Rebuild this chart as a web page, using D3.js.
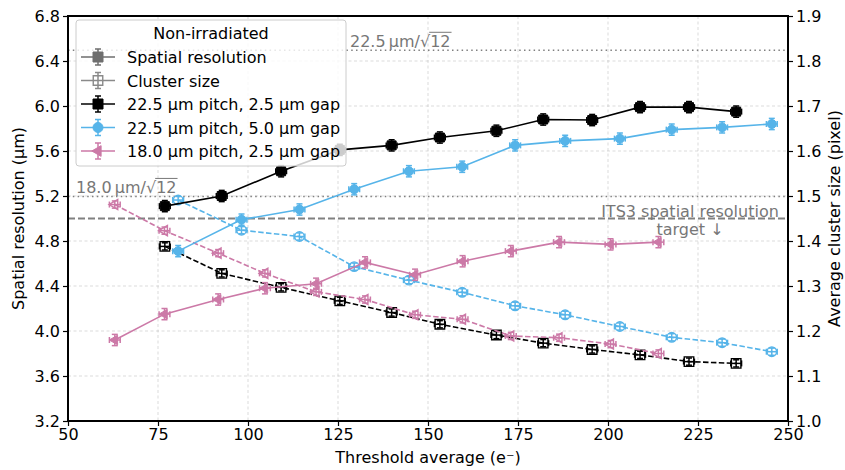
<!DOCTYPE html>
<html><head><meta charset="utf-8">
<script src="https://cdn.jsdelivr.net/npm/d3@7"></script>
<style>
body{margin:0;background:#fff;}
text{font-family:"DejaVu Sans",sans-serif;}
</style></head>
<body><svg id="c" width="845" height="470"></svg>
<script>
// ---- data ----
const xTicks = [50,75,100,125,150,175,200,225,250];
const yTicksLeft = [3.2,3.6,4.0,4.4,4.8,5.2,5.6,6.0,6.4,6.8];
const yTicksRight = [1.0,1.1,1.2,1.3,1.4,1.5,1.6,1.7,1.8,1.9];

const thrA = [76.9,92.7,109.2,125.5,139.9,153.3,169.0,182.0,195.6,208.9,222.5,235.6];
const resA = [5.11,5.20,5.42,5.61,5.65,5.72,5.78,5.88,5.875,5.99,5.99,5.95];
const cluA = [1.388,1.328,1.297,1.267,1.241,1.215,1.191,1.173,1.159,1.147,1.132,1.128];

const thrB = [80.6,98.2,114.3,129.5,144.7,159.5,174.2,188.1,203.3,217.7,231.7,245.5];
const resB = [4.71,4.99,5.08,5.26,5.42,5.46,5.65,5.69,5.71,5.79,5.81,5.84];
const cluB = [1.491,1.424,1.410,1.343,1.313,1.286,1.256,1.236,1.210,1.186,1.174,1.154];

const thrC = [63.0,76.8,91.7,104.7,118.9,132.5,146.4,159.6,173.0,186.4,200.7,214.0];
const resC = [3.92,4.15,4.28,4.38,4.42,4.61,4.50,4.62,4.71,4.79,4.77,4.79];
const cluC = [1.481,1.423,1.373,1.328,1.287,1.270,1.236,1.226,1.189,1.185,1.171,1.150];

const resErr = 0.05, cluErr = 0.008, thrErr = 1.5;

const seriesNames = ["22.5 µm pitch, 2.5 µm gap","22.5 µm pitch, 5.0 µm gap","18.0 µm pitch, 2.5 µm gap"];
const seriesColors = ["#000000","#56B4E9","#CC79A7"];
const seriesMarkers = ["square","circle","triangle"];

const refLines = [
  {v:22.5/Math.sqrt(12), dash:"1.5,3.3", w:1.6, label:"22.5", lx:350},
  {v:18.0/Math.sqrt(12), dash:"1.5,3.3", w:1.6, label:"18.0", lx:76},
  {v:5.0, dash:"7,3", w:2, label:null}
];

// ---- layout ----
const W=845,H=470, m={l:68,r:57,t:16,b:49};
const svg=d3.select("#c");
const x=d3.scaleLinear().domain([50,250]).range([m.l,W-m.r]);
const yL=d3.scaleLinear().domain([3.2,6.8]).range([H-m.b,m.t]);
const yR=d3.scaleLinear().domain([1.0,1.9]).range([H-m.b,m.t]);

// grid
const g=svg.append("g");
g.selectAll(".gx").data(xTicks).join("line")
 .attr("x1",d=>x(d)).attr("x2",d=>x(d)).attr("y1",m.t).attr("y2",H-m.b)
 .attr("stroke","#b0b0b0").attr("stroke-opacity",0.6).attr("stroke-width",0.8).attr("stroke-dasharray","3,2.5");
g.selectAll(".gy").data(yTicksLeft).join("line")
 .attr("x1",m.l).attr("x2",W-m.r).attr("y1",d=>yL(d)).attr("y2",d=>yL(d))
 .attr("stroke","#b0b0b0").attr("stroke-opacity",0.6).attr("stroke-width",0.8).attr("stroke-dasharray","3,2.5");

// reference lines
refLines.forEach(r=>{
  svg.append("line").attr("x1",m.l).attr("x2",W-m.r).attr("y1",yL(r.v)).attr("y2",yL(r.v))
   .attr("stroke","#808080").attr("stroke-width",r.w).attr("stroke-dasharray",r.dash);
});
function sqrtLabel(txt,lx,ly){
  const t1=svg.append("text").attr("x",lx).attr("y",ly).attr("font-size",16).attr("fill","#777")
    .text(txt+"\u2009µm/√");
  const w1=t1.node().getComputedTextLength();
  const t2=svg.append("text").attr("x",lx+w1).attr("y",ly).attr("font-size",16).attr("fill","#777").text("12");
  const w2=t2.node().getComputedTextLength();
  svg.append("line").attr("x1",lx+w1-1).attr("x2",lx+w1+w2+1).attr("y1",ly-15).attr("y2",ly-15)
    .attr("stroke","#777").attr("stroke-width",1);
}
sqrtLabel(refLines[0].label,refLines[0].lx,yL(refLines[0].v)-3);
sqrtLabel(refLines[1].label,refLines[1].lx,yL(refLines[1].v)-3);
svg.append("text").attr("x",690).attr("y",yL(5.0)-2).attr("text-anchor","middle").attr("font-size",16).attr("fill","#777").text("ITS3 spatial resolution");
svg.append("text").attr("x",690).attr("y",yL(5.0)+16).attr("text-anchor","middle").attr("font-size",16).attr("fill","#777").text("target ↓");

// markers
function markerPath(kind,s){
  if(kind==="square") return `M${-s/2},${-s/2}h${s}v${s}h${-s}Z`;
  if(kind==="circle") return d3.symbol(d3.symbolCircle, Math.PI*(s/2)*(s/2))();
  const r=s*0.62; return `M${-r},0L${r*0.5},${-r*0.866}L${r*0.5},${r*0.866}Z`;
}

function drawSeries(xs,ys,yscale,col,kind,dashed,errY,hollow,parent){
  const gg=parent.append("g");
  const line=d3.line().x((d,i)=>x(xs[i])).y(d=>yscale(d));
  gg.append("path").attr("d",line(ys)).attr("fill","none").attr("stroke",col).attr("stroke-width",1.6)
    .attr("stroke-dasharray",dashed?"5.5,2.4":null);
  ys.forEach((v,i)=>{
    const px=x(xs[i]), py=yscale(v);
    const y1=yscale(v-errY), y2=yscale(v+errY);
    gg.append("line").attr("x1",px).attr("x2",px).attr("y1",y1).attr("y2",y2).attr("stroke",col).attr("stroke-width",1.5);
    gg.append("line").attr("x1",px-3).attr("x2",px+3).attr("y1",y1).attr("y2",y1).attr("stroke",col).attr("stroke-width",1.5);
    gg.append("line").attr("x1",px-3).attr("x2",px+3).attr("y1",y2).attr("y2",y2).attr("stroke",col).attr("stroke-width",1.5);
    gg.append("line").attr("x1",x(xs[i]-thrErr)).attr("x2",x(xs[i]+thrErr)).attr("y1",py).attr("y2",py).attr("stroke",col).attr("stroke-width",1.5);
    gg.append("line").attr("x1",x(xs[i]-thrErr)).attr("x2",x(xs[i]-thrErr)).attr("y1",py-3).attr("y2",py+3).attr("stroke",col).attr("stroke-width",1.5);
    gg.append("line").attr("x1",x(xs[i]+thrErr)).attr("x2",x(xs[i]+thrErr)).attr("y1",py-3).attr("y2",py+3).attr("stroke",col).attr("stroke-width",1.5);
    gg.append("path").attr("transform",`translate(${px},${py})`).attr("d",markerPath(kind,hollow?9.5:9))
      .attr("fill",hollow?"none":col).attr("stroke",col).attr("stroke-width",hollow?1.4:1);
  });
}
const dataG=svg.append("g");
const thrs=[thrA,thrB,thrC], ress=[resA,resB,resC], clus=[cluA,cluB,cluC];
for(let k=0;k<3;k++){
  drawSeries(thrs[k],clus[k],yR,seriesColors[k],seriesMarkers[k],true,cluErr,true,dataG);
}
for(let k=0;k<3;k++){
  drawSeries(thrs[k],ress[k],yL,seriesColors[k],seriesMarkers[k],false,resErr,false,dataG);
}

// axes
const fmt1=d3.format(".1f");
const ax=svg.append("g").attr("transform",`translate(0,${H-m.b})`).call(d3.axisBottom(x).tickValues(xTicks).tickSize(5).tickPadding(3).tickFormat(d3.format("d")));
const ayl=svg.append("g").attr("transform",`translate(${m.l},0)`).call(d3.axisLeft(yL).tickValues(yTicksLeft).tickSize(5).tickPadding(3).tickFormat(fmt1));
const ayr=svg.append("g").attr("transform",`translate(${W-m.r},0)`).call(d3.axisRight(yR).tickValues(yTicksRight).tickSize(5).tickPadding(3).tickFormat(fmt1));
[ax,ayl,ayr].forEach(a=>{
  a.select(".domain").remove();
  a.selectAll(".tick line").attr("stroke","#000").attr("stroke-width",1.2);
  a.selectAll(".tick text").attr("font-size",16).attr("fill","#000").attr("font-family","DejaVu Sans");
});
svg.append("rect").attr("x",m.l).attr("y",m.t).attr("width",W-m.l-m.r).attr("height",H-m.t-m.b)
  .attr("fill","none").attr("stroke","#000").attr("stroke-width",2);

svg.append("text").attr("x",(m.l+W-m.r)/2).attr("y",463).attr("text-anchor","middle").attr("font-size",16).text("Threshold average (e⁻)");
svg.append("text").attr("transform",`translate(24,${(m.t+H-m.b)/2}) rotate(-90)`).attr("text-anchor","middle").attr("font-size",16).text("Spatial resolution (µm)");
svg.append("text").attr("transform",`translate(840,${(m.t+H-m.b)/2}) rotate(-90)`).attr("text-anchor","middle").attr("font-size",16).text("Average cluster size (pixel)");

// legend
const lg=svg.append("g");
lg.append("rect").attr("x",76).attr("y",20).attr("width",270).attr("height",146).attr("rx",3)
  .attr("fill","#fff").attr("fill-opacity",0.8).attr("stroke","#ccc").attr("stroke-width",1);
lg.append("text").attr("x",211).attr("y",39).attr("text-anchor","middle").attr("font-size",16).text("Non-irradiated");
const legItems=[
  {label:"Spatial resolution",col:"#6e6e6e",kind:"square",hollow:false,dashed:false},
  {label:"Cluster size",col:"#8a8a8a",kind:"square",hollow:true,dashed:false},
  ...seriesNames.map((n,i)=>({label:n,col:seriesColors[i],kind:seriesMarkers[i],hollow:false,dashed:false}))
];
legItems.forEach((it,i)=>{
  const cy=57+i*23.5, cx=98;
  lg.append("line").attr("x1",81).attr("x2",115).attr("y1",cy).attr("y2",cy).attr("stroke",it.col).attr("stroke-width",1.6)
    .attr("stroke-dasharray",it.dashed?"5.5,2.4":null);
  lg.append("line").attr("x1",cx).attr("x2",cx).attr("y1",cy-8).attr("y2",cy+8).attr("stroke",it.col).attr("stroke-width",1.5);
  lg.append("line").attr("x1",cx-3).attr("x2",cx+3).attr("y1",cy-8).attr("y2",cy-8).attr("stroke",it.col).attr("stroke-width",1.5);
  lg.append("line").attr("x1",cx-3).attr("x2",cx+3).attr("y1",cy+8).attr("y2",cy+8).attr("stroke",it.col).attr("stroke-width",1.5);
  lg.append("path").attr("transform",`translate(${cx},${cy})`).attr("d",markerPath(it.kind,it.hollow?9.5:10))
    .attr("fill",it.hollow?"none":it.col).attr("stroke",it.col).attr("stroke-width",it.hollow?1.4:1);
  lg.append("text").attr("x",127).attr("y",cy+6).attr("font-size",16).text(it.label);
});
</script></body></html>
